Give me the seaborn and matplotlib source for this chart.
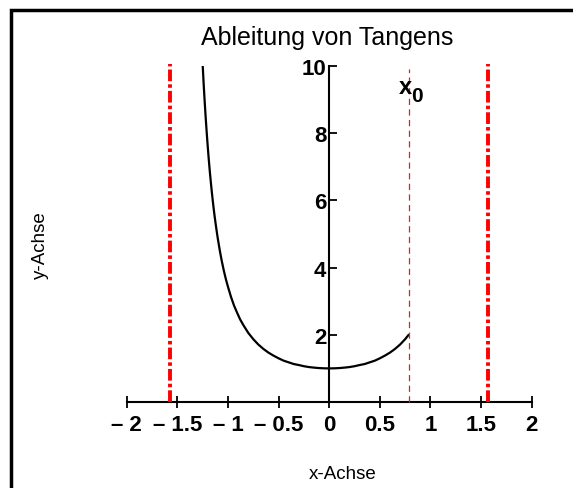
import numpy as np
import pandas as pd
import matplotlib
matplotlib.use("Agg")
import matplotlib.pyplot as plt
import seaborn as sns
from matplotlib.patches import Rectangle

# curve values (derivative of tan)
x_vals = [-1.249, -1.24, -1.23, -1.22, -1.21, -1.2, -1.19, -1.18, -1.17, -1.16, -1.15,
          -1.14, -1.13, -1.12, -1.11, -1.1, -1.08, -1.06, -1.04, -1.02, -1.0,
          -0.97, -0.94, -0.91, -0.88, -0.85, -0.8, -0.75, -0.7, -0.65, -0.6,
          -0.55, -0.5, -0.45, -0.4, -0.35, -0.3, -0.25, -0.2, -0.15, -0.1, -0.05,
          0.0, 0.05, 0.1, 0.15, 0.2, 0.25, 0.3, 0.35, 0.4, 0.45, 0.5, 0.55, 0.6,
          0.65, 0.7, 0.75, 0.785]
y_vals = [10.0, 9.47, 8.95, 8.47, 8.03, 7.62, 7.24, 6.89, 6.57, 6.27, 5.99,
          5.73, 5.49, 5.27, 5.06, 4.86, 4.50, 4.18, 3.90, 3.65, 3.43,
          3.13, 2.87, 2.66, 2.46, 2.30, 2.06, 1.87, 1.71, 1.58, 1.47,
          1.38, 1.30, 1.23, 1.18, 1.13, 1.10, 1.065, 1.04, 1.023, 1.01, 1.0025,
          1.0, 1.0025, 1.01, 1.023, 1.04, 1.065, 1.10, 1.13, 1.18, 1.23, 1.30, 1.38, 1.47,
          1.58, 1.71, 1.87, 2.0]

asymptotes = [-1.5708, 1.5708]
x0 = 0.785

xticks = [-2, -1.5, -1, -0.5, 0, 0.5, 1, 1.5, 2]
xtick_labels = ["\u2013 2", "\u2013 1.5", "\u2013 1", "\u2013 0.5", "0", "0.5", "1", "1.5", "2"]
yticks = [2, 4, 6, 8, 10]
ytick_labels = ["2", "4", "6", "8", "10"]

sns.set_style("white")
plt.rcParams["font.family"] = ["Liberation Sans", "DejaVu Sans"]
plt.rcParams["text.color"] = "black"
plt.rcParams["xtick.labelcolor"] = "black"
plt.rcParams["ytick.labelcolor"] = "black"

W, H = 573, 489
fig = plt.figure(figsize=(W / 100, H / 100), dpi=100)
ax = fig.add_axes([126.7 / W, 1 - 403 / H, 405 / W, 336 / H])
ax.set_xlim(-2, 2)
ax.set_ylim(0, 10)
ax.patch.set_alpha(0)

df = pd.DataFrame({"x": x_vals, "y": y_vals})
sns.lineplot(data=df, x="x", y="y", color="black", lw=1.6, ax=ax, sort=False)

for a in asymptotes:
    ax.plot([a, a], [0, 10.05], color="red", lw=2.8, ls=(0, (3.0, 0.8, 0.9, 0.8)), clip_on=False)
ax.plot([x0, x0], [0, 9.9], color="#e02020", lw=0.9, ls=(0, (5, 3.5)), clip_on=False)
ax.text(0.69, 9.2, "x", fontsize=17, fontweight="bold", ha="left", va="baseline", color="black")
ax.text(0.81, 8.95, "0", fontsize=15, fontweight="bold", ha="left", va="baseline", color="black")

for s in ["top", "right"]:
    ax.spines[s].set_visible(False)
ax.spines["left"].set_position(("data", 0))
ax.spines["bottom"].set_position(("data", 0))
ax.spines["left"].set_bounds(0, 10)
ax.spines["bottom"].set_bounds(-2, 2)
for s in ["left", "bottom"]:
    ax.spines[s].set_color("black")
    ax.spines[s].set_linewidth(1.5)
    ax.spines[s].set_zorder(1)

ax.set_xticks(xticks)
ax.set_xticklabels(xtick_labels, fontsize=16, fontweight="bold", color="black")
ax.set_yticks(yticks)
ax.set_yticklabels(ytick_labels, fontsize=16, fontweight="bold", color="black")
ax.tick_params(axis="x", bottom=True, direction="inout", length=8.6, width=1.3,
               color="black", pad=4)
ax.tick_params(axis="y", left=True, direction="in", length=5.8, width=1.3,
               color="black", pad=2)
ax.set_xlabel("")
ax.set_ylabel("")

fig.text(327 / W, 1 - 38 / H, "Ableitung von Tangens", fontsize=18, ha="center", va="center")
fig.text(343 / W, 1 - 475 / H, "x-Achse", fontsize=13.5, ha="center", va="center")
fig.text(40 / W, 1 - 245 / H, "y-Achse", fontsize=13.5, ha="center", va="center", rotation=90)

top = 1 - 10.7 / H
fig.patches.append(Rectangle((10.7 / W, -0.2), 1.3, top + 0.2,
                             transform=fig.transFigure, fill=False, edgecolor="black",
                             lw=2.5, clip_on=False))

fig.savefig("out.png", dpi=100)
